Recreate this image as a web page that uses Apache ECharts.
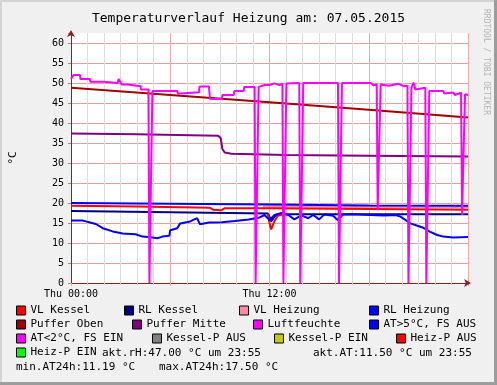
<!DOCTYPE html>
<html>
<head>
<meta charset="utf-8">
<script src="https://cdn.jsdelivr.net/npm/echarts@6/dist/echarts.min.js"></script>
<style>html,body{margin:0;padding:0;background:#f0f0f0;}#c{width:497px;height:385px;}</style>
</head>
<body>
<div id="c"></div>
<script>
// ---- data (x = hours since Thu 00:00, y = value) ----
const xTickValues = [0, 12];
const xTickLabels = ['Thu 00:00', 'Thu 12:00'];

const vlKessel = [[0,19.3],[4,19.1],[8.4,18.8],[8.6,18.3],[9.1,18.2],[9.3,18.7],[12,18.7],[18,18.5],[24,18.3]];
const rlKessel = [[0,18.0],[6,17.7],[11.9,17.4],[12.0,16.6],[12.1,15.4],[12.3,16.6],[12.5,17.2],[18,17.2],[24,17.2]];
const vlHeizung = [[11.6,19.1],[18,19.0],[24,18.9]];
const rlHeizung = [[0,20.0],[6,19.8],[12,19.6],[18,19.4],[24,19.3]];
const pufferOben = [[0,48.8],[6,47.0],[12,45.2],[18,43.3],[24,41.4]];
const pufferMitte = [[0,37.4],[4,37.2],[8.9,36.8],[9.05,36.2],[9.15,33.5],[9.3,32.6],[9.7,32.3],[13,32.0],[18,31.8],[24,31.6]];
const heizPAus = [[11.9,17.3],[12.0,15.0],[12.1,13.4],[12.2,13.5],[12.3,15.5],[12.5,16.8],[12.8,17.2]];
const aussenTemp = [[0,15.6],[0.12,15.1],[0.72,15.6],[1.5,14.75],[1.92,13.7],[2.52,12.9],[3.12,12.4],[3.9,12.2],[4.32,11.6],[4.92,11.4],[5.22,11.2],[5.52,11.6],[5.94,11.8],[6.0,13.2],[6.42,13.7],[6.6,14.9],[7.14,15.3],[7.62,16.2],[7.8,14.7],[8.34,15.1],[9.12,15.2],[9.9,15.5],[10.74,15.9],[11.34,16.3],[11.7,17.0],[12.0,15.75],[12.3,17.0],[12.72,17.5],[13.14,17.0],[13.5,15.9],[13.92,16.9],[14.34,16.2],[14.64,17.0],[15.0,15.9],[15.3,17.1],[15.84,16.8],[16.14,15.7],[16.44,17.1],[16.92,17.2],[18.12,17.0],[18.9,16.9],[19.62,17.0],[19.92,16.6],[20.22,15.75],[20.52,14.9],[20.94,14.3],[21.3,13.8],[21.72,12.8],[22.14,12.0],[22.5,11.6],[23.1,11.4],[24,11.5]];
const luftfeuchte = [[0,51.0],[0.12,51.0],[0.15,52.0],[0.54,52.0],[0.57,51.0],[1.14,51.0],[1.17,50.3],[1.92,50.3],[1.95,50.0],[2.82,50.0],[2.88,51.0],[3.0,51.0],[3.06,49.6],[3.42,49.6],[3.45,49.2],[4.2,49.2],[4.23,48.4],[4.68,48.4],[4.74,0],[4.86,0],[4.92,48.0],[6.42,48.0],[6.45,47.4],[6.6,47.4],[6.63,47.7],[7.74,47.7],[7.77,49.1],[8.34,49.1],[8.4,46.0],[9.12,46.0],[9.15,47.0],[9.84,47.0],[9.87,48.0],[10.44,48.0],[10.47,49.0],[11.1,49.0],[11.16,0],[11.28,0],[11.34,49.0],[11.7,49.5],[11.76,50.0],[12.0,49.5],[12.3,49.9],[12.6,49.5],[12.78,49.8],[12.84,0],[12.96,0],[13.02,49.9],[13.8,50.0],[13.86,0],[13.98,0],[14.04,50.0],[16.14,50.0],[16.2,0],[16.32,0],[16.38,50.0],[18.1,50.0],[18.3,49.4],[18.48,49.7],[18.54,18.2],[18.66,18.2],[18.72,49.6],[19.2,49.3],[19.8,49.8],[20.1,49.2],[20.34,49.3],[20.4,0],[20.52,0],[20.58,48.8],[20.7,50.1],[20.82,48.4],[21.42,48.8],[21.48,0],[21.6,0],[21.66,48.0],[22.5,48.0],[22.56,47.4],[23.1,47.6],[23.2,47.0],[23.58,47.6],[23.64,17.0],[23.76,17.0],[23.82,47.2],[24,47.0]];

const legendNames = ['VL Kessel','RL Kessel','VL Heizung','RL Heizung','Puffer Oben','Puffer Mitte','Luftfeuchte','AT>5°C, FS AUS','AT<2°C, FS EIN','Kessel-P AUS','Kessel-P EIN','Heiz-P AUS','Heiz-P EIN'];
const legendColors = ['#ff0000','#000080','#ff8aa0','#0000ff','#a00000','#800080','#ff00ff','#0000ff','#ff00ff','#808080','#c8c800','#ff0000','#00ff00'];
const infoTexts = ['akt.rH:47.00 °C um 23:55','akt.AT:11.50 °C um 23:55','min.AT24h:11.19 °C','max.AT24h:17.50 °C'];
const titleText = 'Temperaturverlauf Heizung am: 07.05.2015';

// ---- layout ----
const FONT = 'DejaVu Sans Mono';
const legendPos = [[16,311],[124,311],[239,311],[369,311],[16,325],[132,325],[253,325],[369,325],[16,339],[152,339],[274,339],[396,339],[16,353]];
const infoPos = [[102,353],[313,353],[16,367],[159,367]];

const seriesData = {
  'VL Kessel': vlKessel, 'RL Kessel': rlKessel, 'VL Heizung': vlHeizung, 'RL Heizung': rlHeizung,
  'Puffer Oben': pufferOben, 'Puffer Mitte': pufferMitte, 'Heiz-P AUS': heizPAus,
  'AT>5°C, FS AUS': aussenTemp, 'Luftfeuchte': luftfeuchte
};
const drawOrder = ['VL Heizung','RL Heizung','VL Kessel','RL Kessel','Puffer Oben','Puffer Mitte','Heiz-P AUS','AT>5°C, FS AUS','AT<2°C, FS EIN','Kessel-P AUS','Kessel-P EIN','Heiz-P EIN','Luftfeuchte'];

const series = drawOrder.map(name => {
  const c = legendColors[legendNames.indexOf(name)];
  return {
    name, type: 'line', data: seriesData[name] || [], showSymbol: false, symbol: 'none',
    lineStyle: { color: c, width: 2 }, itemStyle: { color: c }, animation: false
  };
});

const legends = legendNames.map((n, i) => ({
  data: [n], left: legendPos[i][0], top: legendPos[i][1] - 6, padding: 0,
  icon: 'rect', itemWidth: 9, itemHeight: 9, selectedMode: false,
  itemStyle: { borderColor: '#000', borderWidth: 1 },
  textStyle: { fontFamily: FONT, fontSize: 11, color: '#000' }
}));

const MAJOR = '#f2a8a8';
const HMAJOR = '#ee9c9c';

const graphics = [
  { type: 'rect', shape: { x: 0, y: 0, width: 497, height: 2 }, style: { fill: '#d4d4d4' }, silent: true },
  { type: 'rect', shape: { x: 0, y: 0, width: 2, height: 385 }, style: { fill: '#d4d4d4' }, silent: true },
  { type: 'rect', shape: { x: 494, y: 0, width: 3, height: 385 }, style: { fill: '#9c9c9c' }, silent: true },
  { type: 'rect', shape: { x: 0, y: 382, width: 497, height: 3 }, style: { fill: '#9c9c9c' }, silent: true },
  { type: 'text', x: 486, y: 62, rotation: -Math.PI / 2, silent: true,
    style: { text: 'RRDTOOL / TOBI OETIKER', font: '8px ' + FONT, fill: '#b4b4b4', align: 'center', verticalAlign: 'middle' } }
].concat(infoTexts.map((t, i) => ({
  type: 'text', x: infoPos[i][0], y: infoPos[i][1], silent: true,
  style: { text: t, font: '11px ' + FONT, fill: '#000', verticalAlign: 'middle' }
})));

const chart = echarts.init(document.getElementById('c'), null, { renderer: 'canvas' });
chart.setOption({
  animation: false,
  backgroundColor: '#f0f0f0',
  title: { text: titleText, left: 'center', top: 7,
    textStyle: { fontFamily: FONT, fontSize: 13, fontWeight: 'normal', color: '#000' } },
  grid: { left: 68, right: 29, top: 33, bottom: 102, show: true, backgroundColor: '#ffffff', borderWidth: 0 },
  legend: legends,
  xAxis: {
    type: 'value', min: 0, max: 24, interval: 6,
    axisLine: { show: true, lineStyle: { color: '#902020', width: 1 }, symbol: ['none', 'arrow'], symbolSize: [6, 7], symbolOffset: [0, 3] },
    axisTick: { show: true, length: 3, lineStyle: { color: MAJOR } },
    minorTick: { show: true, splitNumber: 6, length: 2, lineStyle: { color: '#d0d0d0' } },
    splitLine: { show: true, lineStyle: { color: MAJOR, width: 1 } },
    minorSplitLine: { show: true, lineStyle: { color: '#dcdcdc', width: 1 } },
    axisLabel: { margin: 6, fontFamily: FONT, fontSize: 10, color: '#000',
      formatter: v => { const k = xTickValues.indexOf(v); return k >= 0 ? xTickLabels[k] : ''; } }
  },
  yAxis: {
    type: 'value', min: 0, max: 62.5, interval: 5,
    name: '°C', nameLocation: 'middle', nameGap: 52, nameRotate: 90,
    nameTextStyle: { fontFamily: FONT, fontSize: 11, color: '#000' },
    axisLine: { show: true, lineStyle: { color: '#902020', width: 1 }, symbol: ['none', 'arrow'], symbolSize: [6, 7], symbolOffset: [0, 3] },
    axisTick: { show: true, length: 3, lineStyle: { color: '#c08080' } },
    splitLine: { show: true, showMaxLine: false, lineStyle: { color: HMAJOR, width: 1 } },
    axisLabel: { margin: 7, fontFamily: FONT, fontSize: 10, color: '#000',
      formatter: v => (v % 5 === 0 ? String(v) : '') }
  },
  graphic: graphics,
  series
});
</script>
</body>
</html>
